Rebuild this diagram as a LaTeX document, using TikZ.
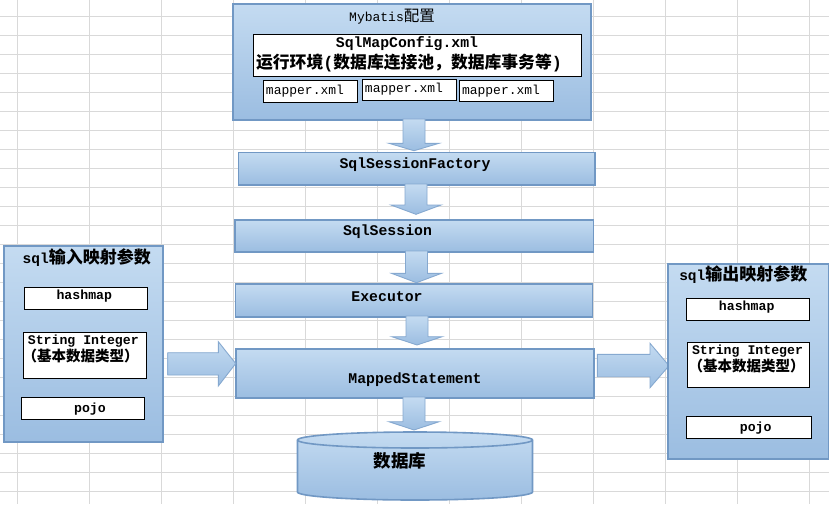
\documentclass[tikz,border=0pt]{standalone}
\usepackage{fontspec}
\setmainfont{Liberation Mono}
\newfontfamily\cjk{Noto Sans CJK SC}
\newcommand\zh[1]{{\cjk #1}}
\definecolor{gtop}{HTML}{C4DBF1}
\definecolor{gbot}{HTML}{9BBDE1}
\definecolor{bord}{HTML}{7198C4}
\definecolor{abord}{HTML}{86A9D0}
\definecolor{gridc}{HTML}{D9D9D9}
\tikzset{
  bluebox/.style={draw=bord, line width=1.8pt, top color=gtop, bottom color=gbot, inner sep=0pt, anchor=north west},
  whitebox/.style={draw=black, line width=1pt, fill=white, inner sep=0pt, anchor=north west},
  barrow/.style={draw=abord, line width=0.9pt, top color=gtop, bottom color=gbot, line join=miter},
  btxt/.style={font=\fontsize{14.8}{16}\selectfont\bfseries, inner sep=0pt},
  stxt/.style={font=\fontsize{13.2}{15}\selectfont\bfseries, inner sep=0pt},
  mtxt/.style={font=\fontsize{13}{15}\selectfont, inner sep=0pt},
  ztitle/.style={font=\fontsize{14.5}{16}\selectfont\bfseries, inner sep=0pt},
}
\newcommand\downarr[4]{%
  \path[barrow] (#1-11,#2) -- (#1+11,#2) -- (#1+11,#3) -- (#1+25,#3) -- (#1,#4)
    -- (#1-25,#3) -- (#1-11,#3) -- cycle;}
\begin{document}
\begin{tikzpicture}[x=1pt,y=-1pt]
\useasboundingbox (0,0) rectangle (829,504);
\fill[white] (0,0) rectangle (829,504);
% grid
\foreach \i in {0,...,11} \draw[gridc, line width=1pt] (17.3+72*\i,0) -- (17.3+72*\i,504);
\foreach \j in {0,...,25} \draw[gridc, line width=1pt] (0,16+19*\j) -- (829,16+19*\j);

% Mybatis config
\node[bluebox, minimum width=358pt, minimum height=116pt] (cfg) at (232,3) {};
\node[inner sep=0pt] (cfgt) at (392,16.5) {\fontsize{13}{15}\selectfont Mybatis\zh{\fontsize{15.5}{17}\selectfont 配置}};
\node[whitebox, minimum width=328pt, minimum height=42pt] (smc) at (253,33.5) {};
\node[btxt] (smct) at (407,44) {SqlMapConfig.xml};
\node[inner sep=0pt] (envt) at (409,62.5) {\fontsize{16.8}{18}\selectfont\bfseries\zh{运行环境}(\zh{数据库连接池，数据库事务等})};
\node[whitebox, minimum width=94pt, minimum height=22pt] (m1) at (262.5,80) {};
\node[whitebox, minimum width=94pt, minimum height=21.5pt] (m2) at (361.5,78.5) {};
\node[whitebox, minimum width=94.5pt, minimum height=21.5pt] (m3) at (458.5,79.5) {};
\node[mtxt] (m1t) at (305,91) {mapper.xml};
\node[mtxt] (m2t) at (404,89.5) {mapper.xml};
\node[mtxt] (m3t) at (501,91) {mapper.xml};

% chain
\node[bluebox, minimum width=356.5pt, minimum height=32.5pt] (ssf) at (237.5,151.5) {};
\node[btxt] (ssft) at (415,165) {SqlSessionFactory};
\node[bluebox, minimum width=358.5pt, minimum height=32pt] (ss) at (234,219) {};
\node[btxt] (sst) at (387.5,232) {SqlSession};
\node[bluebox, minimum width=357pt, minimum height=32.4pt] (ex) at (234.5,283.3) {};
\node[btxt] (ext) at (387,296.5) {Executor};
\node[bluebox, minimum width=357.7pt, minimum height=49.6pt] (ms) at (235,347.7) {};
\node[btxt] (mst) at (415,379.5) {MappedStatement};

% database cylinder
\path[draw=bord, line width=1.6pt, top color=gtop, bottom color=gbot]
  (297.5,440) -- (297.5,492) arc[start angle=180,end angle=360,x radius=117.5pt,y radius=8pt]
  -- (532.5,440) arc[start angle=0,end angle=180,x radius=117.5pt,y radius=8pt] -- cycle;
\draw[bord, line width=1.6pt] (297.5,440) arc[start angle=180,end angle=360,x radius=117.5pt,y radius=8pt];
\node[inner sep=0pt] (db) at (400,461) {\fontsize{17.5}{19}\selectfont\bfseries\zh{数据库}};

% down arrows
\downarr{414}{119}{143.3}{150.7}
\downarr{416}{184}{205}{214.3}
\downarr{416.5}{251}{273.3}{282.7}
\downarr{417}{316}{336.7}{345}
\downarr{414}{397}{421.7}{430}

% left panel
\path[barrow] (167.7,352.7) -- (218.3,352.7) -- (218.3,341.7) -- (235.7,363.5)
  -- (218.3,386) -- (218.3,375) -- (167.7,375) -- cycle;
\node[bluebox, minimum width=159.6pt, minimum height=196pt] (lp) at (2.7,245) {};
\node[ztitle] (lpt) at (86.7,257.5) {sql\zh{\fontsize{17}{19}\selectfont 输入映射参数}};
\node[whitebox, minimum width=123pt, minimum height=22pt] (lh) at (24.3,287.3) {};
\node[stxt] (lht) at (84.3,296.5) {hashmap};
\node[whitebox, minimum width=122.4pt, minimum height=45.7pt] (ls) at (23.3,332.3) {};
\node[stxt] (lst1) at (83.3,341) {String Integer};
\node[inner sep=0pt] (lst2) at (80.7,356) {\fontsize{14.5}{16}\selectfont\bfseries\zh{（基本数据类型）}};
\node[whitebox, minimum width=123.6pt, minimum height=21.7pt] (lpj) at (20.7,397.3) {};
\node[stxt] (lpjt) at (90,409.5) {pojo};

% right panel
\path[barrow] (597.3,354.3) -- (650,354.3) -- (650,343.3) -- (669,365.7)
  -- (650,387.7) -- (650,376.7) -- (597.3,376.7) -- cycle;
\node[bluebox, minimum width=161pt, minimum height=195.6pt] (rp) at (666.7,262.7) {};
\node[ztitle] (rpt) at (743.3,275) {sql\zh{\fontsize{17}{19}\selectfont 输出映射参数}};
\node[whitebox, minimum width=123.3pt, minimum height=22pt] (rh) at (686,298.3) {};
\node[stxt] (rht) at (746.7,307.5) {hashmap};
\node[whitebox, minimum width=122pt, minimum height=45pt] (rs) at (687.3,342.3) {};
\node[stxt] (rst1) at (747.5,351) {String Integer};
\node[inner sep=0pt] (rst2) at (746.7,366) {\fontsize{14.5}{16}\selectfont\bfseries\zh{（基本数据类型）}};
\node[whitebox, minimum width=124.7pt, minimum height=22.3pt] (rpj) at (686,416) {};
\node[stxt] (rpjt) at (755.7,428.5) {pojo};
\end{tikzpicture}
\end{document}
